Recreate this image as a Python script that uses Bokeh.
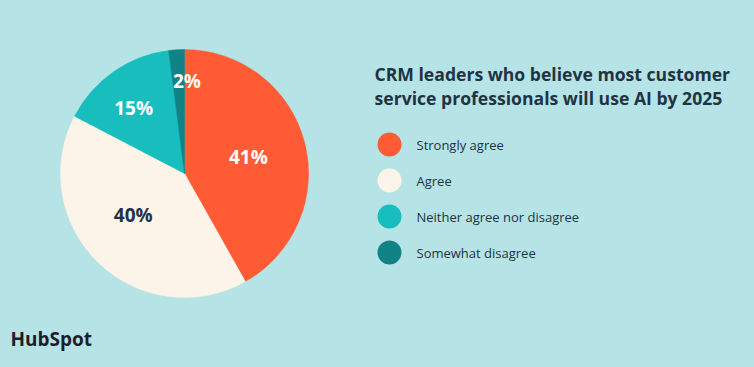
import numpy as np
from bokeh.plotting import figure
from bokeh.models import ColumnDataSource, Range1d
from bokeh.core.properties import value
from bokeh.embed import file_html
from bokeh.resources import INLINE

# ---- data ----
categories = ["Strongly agree", "Agree", "Neither agree nor disagree", "Somewhat disagree"]
percents = [41, 40, 15, 2]
labels = ["41%", "40%", "15%", "2%"]
colors = ["#FF5C35", "#FCF3E9", "#17BEBD", "#0F8386"]
label_colors = ["#FFFFFF", "#213343", "#FFFFFF", "#FFFFFF"]
title_lines = ["CRM leaders who believe most customer",
               "service professionals will use AI by 2025"]

BG = "#B6E3E6"
DARK = "#213343"
W, H = 754, 367

p = figure(width=W, height=H, output_backend="svg", toolbar_location=None,
           x_range=Range1d(0, W), y_range=Range1d(0, H),
           min_border=0, background_fill_color=BG, border_fill_color=BG)
p.axis.visible = False
p.grid.visible = False
p.outline_line_color = None

# pie geometry
cx, cy, R = 184, 194, 124
vals = np.array(percents, dtype=float)
frac = vals / vals.sum()
ends = np.cumsum(frac) * 2 * np.pi
starts = np.concatenate([[0], ends[:-1]])
start_angle = np.pi / 2 - starts
end_angle = np.pi / 2 - ends
mid = (starts + ends) / 2
label_shift = np.array([0.0, 0.12, -0.05, 0.09])  # radians, label placement tweak
label_r = np.array([66, 66, 83, 93])
lx = cx + label_r * np.sin(mid + label_shift)
ly = cy + label_r * np.cos(mid + label_shift)

src = ColumnDataSource(dict(start=start_angle, end=end_angle, color=colors,
                            lx=lx, ly=ly, label=labels, lcolor=label_colors))
p.wedge(x=cx, y=cy, radius=R, start_angle="start", end_angle="end",
        direction="clock", fill_color="color", line_color="color",
        line_width=0.5, source=src)
p.text(x="lx", y="ly", text="label", source=src, text_color="lcolor",
       text_font=value("Open Sans"), text_font_style="bold",
       text_font_size="19px", text_align="center", text_baseline="middle")

# title
p.text(x=[374, 374], y=[294, 270], text=title_lines, text_color=DARK,
       text_font=value("Open Sans"), text_font_style="bold",
       text_font_size="17.6px", text_align="left", text_baseline="middle")

# legend
ly_leg = [223 - 36 * i for i in range(len(categories))]
p.scatter(x=[389] * len(categories), y=ly_leg, size=24, marker="circle",
          fill_color=colors, line_color=None)
p.text(x=[416] * len(categories), y=ly_leg, text=categories, text_color=DARK,
       text_font=value("Open Sans"), text_font_size="13px",
       text_align="left", text_baseline="middle")

# logo
p.text(x=[10], y=[29], text=["HubSpot"], text_color="#1E1E2A",
       text_font=value("Open Sans"), text_font_style="bold",
       text_font_size="19px", text_align="left", text_baseline="middle")

html = file_html(p, INLINE)
html = html.replace("<head>", "<head><style>html,body{background:%s;}</style>" % BG, 1)
open("out.html", "w").write(html)
